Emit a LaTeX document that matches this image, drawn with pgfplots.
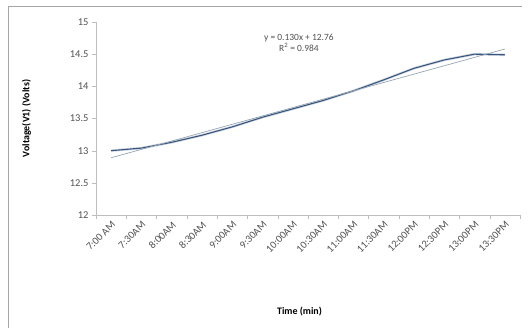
\documentclass[border=0pt]{standalone}
\usepackage{pgfplots}
\pgfplotsset{compat=1.18}
\usepackage{fontspec}
\setmainfont{Carlito}
\definecolor{axgray}{RGB}{190,190,190}
\definecolor{txtgray}{RGB}{80,80,80}
\definecolor{dataline}{RGB}{55,85,125}
\definecolor{trend}{RGB}{150,165,180}
\begin{document}
\begin{tikzpicture}
\useasboundingbox (0bp,0bp) rectangle (529bp,328bp);
\draw[color=gray!70,line width=0.8pt] (8bp,-2bp) -- (8bp,322bp) -- (522bp,322bp);
\begin{axis}[
  at={(96bp,113bp)}, anchor=south west,
  scale only axis, width=424bp, height=193bp,
  xmin=-0.5, xmax=13.5, ymin=12, ymax=15,
  axis x line*=bottom, axis y line*=left,
  axis line style={axgray,-},
  xtick={0,...,13},
  xticklabels={7:00 AM,7:30AM,8:00AM,8:30AM,9:00AM,9:30AM,10:00AM,10:30AM,11:00AM,11:30AM,12:00PM,12:30PM,13:00PM,13:30PM},
  major x tick style={draw=none},
  minor xtick={-0.5,0.5,...,13.5},
  minor tick style={axgray},
  minor tick length=4bp,
  xtick align=outside,
  ytick={12,12.5,...,15},
  ytick style={axgray}, ytick align=outside, major tick length=4bp,
  yticklabel style={font=\fontsize{10.5}{12}\selectfont, color=txtgray},
  xticklabel style={font=\fontsize{10.5}{12}\selectfont, color=txtgray, rotate=45, anchor=north east, inner sep=1pt},
  /pgf/number format/assume math mode=true,
  ylabel={\textbf{Voltage(V1) (Volts)}},
  ylabel style={font=\fontsize{10}{12}\selectfont, at={(axis description cs:-0.145,0.5)}},
  xlabel={\textbf{Time (min)}},
  xlabel style={font=\fontsize{10}{12}\selectfont, at={(axis description cs:0.48,-0.46)}},
  clip=false,
]
\addplot[color=dataline!35, line width=2.6pt, opacity=0.6] coordinates {
(0,13.00) (1,13.04) (2,13.13) (3,13.24) (4,13.37) (5,13.52) (6,13.65) (7,13.78) (8,13.93) (9,14.10) (10,14.28) (11,14.41) (12,14.50) (13,14.49)};
\addplot[color=dataline, line width=1.1pt] coordinates {
(0,13.00) (1,13.04) (2,13.13) (3,13.24) (4,13.37) (5,13.52) (6,13.65) (7,13.78) (8,13.93) (9,14.10) (10,14.28) (11,14.41) (12,14.50) (13,14.49)};
\addplot[color=trend, line width=0.7pt] coordinates {(0,12.89) (13,14.58)};
\node[font=\fontsize{9.5}{11}\selectfont, color=txtgray, align=center] at (axis cs:6.2,14.68) {y = 0.130x + 12.76\\R\textsuperscript{2} = 0.984};
\end{axis}
\end{tikzpicture}
\end{document}
